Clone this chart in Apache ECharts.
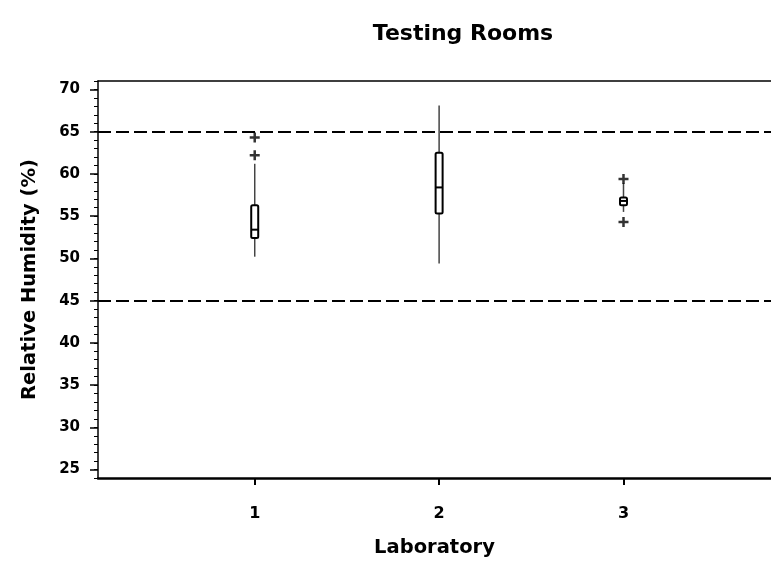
<!DOCTYPE html>
<html>
<head>
<meta charset="utf-8">
<script src="https://cdn.jsdelivr.net/npm/echarts@6/dist/echarts.min.js"></script>
<style>
  html, body { margin: 0; padding: 0; background: #fff; }
  #chart { width: 771px; height: 571px; }
</style>
</head>
<body>
<div id="chart"></div>
<script>
// laboratory number on the x axis
const labs = [1, 2, 3];
// box plot summary per laboratory (relative humidity, %)
const whiskerLow = [50.2, 49.4, 55.5];
const boxQ1 = [52.4, 55.3, 56.3];
const boxMedian = [53.4, 58.4, 56.8];
const boxQ3 = [56.3, 62.5, 57.2];
const whiskerHigh = [61.2, 68.1, 58.9];
// outliers drawn as "+"
const outlierLab = [1, 1, 3, 3];
const outlierValue = [64.3, 62.2, 59.4, 54.3];
// reference limits
const limitLines = [65, 45];

const xTicks = [1, 2, 3];
const yTicks = [25, 30, 35, 40, 45, 50, 55, 60, 65, 70];

const font = "'DejaVu Sans', sans-serif";

const boxData = labs.map((lab, i) => [lab, whiskerLow[i], boxQ1[i], boxMedian[i], boxQ3[i], whiskerHigh[i]]);
const outlierData = outlierLab.map((lab, i) => [lab, outlierValue[i]]);

const chart = echarts.init(document.getElementById("chart"));

chart.setOption({
  animation: false,
  backgroundColor: "#fff",
  title: {
    text: "Testing Rooms",
    left: 458,
    top: 18,
    textAlign: "center",
    textStyle: { fontFamily: font, fontSize: 22, fontWeight: "bold", color: "#000" }
  },
  grid: { left: 98, right: 0, top: 81, bottom: 93 },
  xAxis: [
    {
      type: "value",
      min: 0.15,
      max: 3.8,
      position: "bottom",
      name: "Laboratory",
      nameLocation: "middle",
      nameGap: 60,
      nameTextStyle: { fontFamily: font, fontSize: 19.5, fontWeight: "bold", color: "#000" },
      axisLine: { lineStyle: { color: "#000", width: 2.5 } },
      axisTick: { customValues: xTicks, length: 7, lineStyle: { color: "#000", width: 2 } },
      axisLabel: {
        customValues: xTicks,
        margin: 28,
        fontFamily: font,
        fontSize: 16,
        fontWeight: "bold",
        color: "#000"
      },
      splitLine: { show: false }
    },
    {
      type: "value",
      min: 0.15,
      max: 3.8,
      position: "top",
      axisLine: { lineStyle: { color: "#000", width: 1.5 } },
      axisTick: { show: false },
      axisLabel: { show: false },
      splitLine: { show: false }
    }
  ],
  yAxis: [
    {
      type: "value",
      min: 24,
      max: 71,
      name: "Relative Humidity (%)",
      nameLocation: "middle",
      nameGap: 58,
      nameTextStyle: { fontFamily: font, fontSize: 19.5, fontWeight: "bold", color: "#000" },
      axisLine: { show: true, lineStyle: { color: "#000", width: 1.5 } },
      axisTick: { show: true, customValues: yTicks, length: 8, lineStyle: { color: "#000", width: 1.5 } },
      axisLabel: {
        customValues: yTicks,
        margin: 18,
        fontFamily: font,
        fontSize: 15,
        fontWeight: "bold",
        color: "#000"
      },
      splitLine: { show: false }
    },
    {
      type: "value",
      min: 24,
      max: 71,
      interval: 1,
      position: "left",
      axisLine: { show: false },
      axisTick: { show: true, length: 4, lineStyle: { color: "#000", width: 1 } },
      axisLabel: { show: false },
      splitLine: { show: false }
    }
  ],
  series: [
    {
      type: "custom",
      xAxisIndex: 0,
      yAxisIndex: 0,
      data: boxData,
      renderItem(params, api) {
        const x = api.value(0);
        const lo = api.coord([x, api.value(1)]);
        const q1 = api.coord([x, api.value(2)]);
        const med = api.coord([x, api.value(3)]);
        const q3 = api.coord([x, api.value(4)]);
        const hi = api.coord([x, api.value(5)]);
        const w = 7;
        return {
          type: "group",
          children: [
            {
              type: "line",
              shape: { x1: lo[0], y1: lo[1], x2: hi[0], y2: hi[1] },
              style: { stroke: "#444", lineWidth: 1.5 }
            },
            {
              type: "rect",
              shape: { x: q3[0] - w / 2, y: q3[1], width: w, height: q1[1] - q3[1], r: 1.5 },
              style: { fill: "#fff", stroke: "#000", lineWidth: 2 }
            },
            {
              type: "line",
              shape: { x1: med[0] - w / 2, y1: med[1], x2: med[0] + w / 2, y2: med[1] },
              style: { stroke: "#000", lineWidth: 2 }
            }
          ]
        };
      },
      markLine: {
        silent: true,
        symbol: "none",
        label: { show: false },
        lineStyle: { color: "#000", width: 2, type: [13, 5] },
        data: limitLines.map((v) => ({ yAxis: v }))
      }
    },
    {
      type: "scatter",
      xAxisIndex: 0,
      yAxisIndex: 0,
      data: outlierData,
      symbol: "path://M3.75,0H6.25V3.75H10V6.25H6.25V10H3.75V6.25H0V3.75H3.75Z",
      symbolSize: 10,
      itemStyle: { color: "#000" }
    }
  ]
});
</script>
</body>
</html>
